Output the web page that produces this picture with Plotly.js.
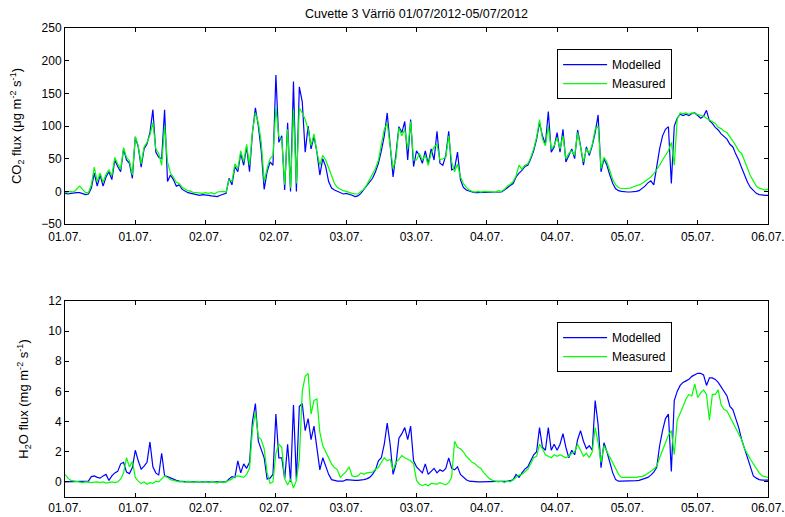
<!DOCTYPE html>
<html><head><meta charset="utf-8">
<script src="https://cdn.plot.ly/plotly-3.0.1.min.js"></script>
<style>html,body{margin:0;padding:0;background:#fff}</style>
</head><body><div id="chart" style="width:785px;height:517px"></div>
<script>
// Half-hourly samples, 01.07.2012 00:00 -> 06.07.2012 00:00
const startUTC = Date.UTC(2012, 6, 1, 0, 0);
const stepMinutes = 30;

const co2Modelled = [
-3,-4,-3,-2,-2,-2,-3,-5,-4,5, 28,8,25,8,22,30,18,48,38,30, 65,48,43,20,83,68,37,65,73,90, 125,60,52,50,125,15,25,18,8,10, 3,0,-2,-3,-4,-5,-6,-5,
-5,-6,-7,-7,-8,-6,-5,-3,20,10, 38,30,58,40,68,30,90,128,100,62, 3,30,45,40,178,75,85,2,105,0, 168,0,160,137,60,100,65,84,60,25, 50,38,15,5,2,0,-2,-4,
-3,-4,-6,-8,-7,-3,3,8,14,20, 30,43,62,85,120,72,22,58,99,90, 107,48,110,38,62,55,43,62,42,65, 48,92,43,40,55,92,33,35,60,18, 6,2,0,-1,-2,-2,-2,-2,
-2,-2,-2,-2,-2,-1,2,6,9,12, 22,28,32,38,40,50,62,80,105,85, 72,122,60,68,90,60,95,45,55,65, 50,94,70,40,68,55,70,90,117,30, 50,40,25,12,4,1,0,-1,
-1,-1,-1,0,1,4,8,13,16,10, 40,65,85,95,99,12,100,112,118,116, 118,116,119,120,116,112,115,124,108,104, 98,94,88,84,80,72,68,57,48,36, 24,14,6,2,-3,-5,-6,-6,-6
];
const co2Measured = [
-2,-1,0,-1,3,8,3,-2,-2,10, 37,15,28,14,26,33,24,52,42,34, 67,52,47,25,84,70,42,68,75,86, 105,65,58,40,100,45,28,22,14,12, 6,3,1,0,-2,-2,-3,-3,
-2,-3,-2,-4,-1,0,0,-1,18,15, 42,35,62,45,72,40,92,120,105,75, 15,35,50,55,128,84,80,10,95,5, 125,12,128,120,110,95,70,88,60,40, 55,48,35,25,12,6,3,1,
0,-2,-3,-4,-4,0,3,10,18,25, 35,48,70,95,104,68,35,50,97,85, 95,65,107,48,48,58,48,55,40,58, 68,72,48,50,52,85,45,30,42,22, 12,6,2,0,-1,0,-1,0,
0,-1,0,-1,1,0,3,8,11,15, 24,40,34,40,42,52,65,83,110,80, 70,100,65,70,82,65,85,50,58,62, 55,90,68,45,65,58,72,95,100,35, 52,45,32,18,10,6,4,4,
4,5,7,8,10,12,15,18,22,27, 33,40,48,55,62,75,40,110,120,119, 120,118,120,119,118,116,115,112,110,107, 104,98,96,92,90,84,77,70,62,58, 46,35,24,16,8,5,4,2,3
];
const h2oModelled = [
0,0,0,0,0,0,0,0,0.05,0.35, 0.4,0.3,0.25,0.4,0.5,0.1,0.4,0.6,0.7,1.2, 1.3,0.65,0.55,0.95,2.1,1.4,0.85,1.05,1.3,2.65, 1.0,0.6,0.45,1.9,0.4,0.35,0.25,0.18,0.1,0.05, 0.02,0,0,0,0,0,0,0,
0,0,0,0,0,0,0,0,0.2,0.35, 0.3,1.4,0.6,1.2,0.9,1.3,4.0,5.2,2.7,2.2, 1.6,0.2,0.25,0.5,4.5,1.6,1.6,0.2,2.5,0.0, 5.1,0.1,5.0,5.2,3.4,4.2,2.8,3.7,2.2,0.8, 1.6,1.1,0.5,0.15,0.08,0.05,0.05,0.05,
0.15,0.12,0.1,0.1,0.1,0.1,0.15,0.2,0.3,0.5, 0.8,1.4,1.6,2.5,3.9,2.5,0.5,1.2,2.9,3.2, 3.6,2.8,3.7,1.4,1.0,0.8,0.6,1.2,0.5,0.7, 0.9,0.6,0.8,0.7,0.9,1.6,0.9,0.8,1.0,0.5, 0.3,0.15,0.05,0.02,0,0,0,0,
0,0,0,0,0,0,0.02,0.05,0.08,0.15, 0.5,0.3,0.6,0.85,1.0,1.4,1.8,2.0,3.6,2.3, 2.1,3.6,2.1,2.5,2.1,2.5,3.2,2.3,1.6,2.1, 1.8,2.8,3.4,2.7,2.2,2.4,2.1,5.4,3.8,0.95, 2.6,2.0,1.3,0.6,0.15,0.05,0.05,0.05,
0.05,0.05,0.05,0.08,0.1,0.15,0.2,0.3,0.45,0.65, 0.95,2.4,3.4,4.2,4.5,0.7,5.4,6.0,6.4,6.6, 6.7,6.8,7.0,7.1,7.2,7.2,7.1,6.4,6.9,6.9, 6.8,6.6,6.3,6.0,5.7,5.0,4.8,4.2,3.6,2.8, 2.2,1.5,0.9,0.4,0.25,0.15,0.12,0.12,0.12
];
const h2oMeasured = [
0.5,0.25,0.1,0.05,0.02,0,-0.05,0,-0.03,-0.05, -0.02,0,-0.05,0,-0.08,-0.04,0,-0.05,0.0,0.2, 0.6,1.6,1.0,1.35,0.3,0.05,-0.1,0.0,-0.15,-0.05, -0.1,0.05,0.0,0.2,0.4,0.3,0.15,0.1,0.05,0.0, 0.02,-0.03,0.05,0,-0.05,0.03,0,-0.02,
0.04,-0.05,0.02,0,-0.08,0.03,-0.04,0.02,0.1,0.2, 0.35,0.4,0.35,0.3,0.5,0.9,3.5,4.6,3.0,2.8, 2.2,0.6,-0.1,0.0,1.9,2.5,2.3,0.2,-0.2,0.2, -0.4,0.1,1.5,6.0,7.0,7.2,4.5,5.4,5.5,3.3, 2.4,2.0,1.5,1.2,0.95,0.8,0.3,0.5,
0.7,1.0,0.4,0.35,0.4,0.6,0.5,0.6,0.6,0.65, 0.85,0.95,1.3,1.6,1.4,1.5,0.8,1.3,1.5,1.75, 1.6,1.5,1.4,1.2,0.1,-0.15,-0.25,-0.15,-0.25,-0.1, -0.15,-0.15,-0.05,-0.15,-0.2,-0.05,0.3,2.7,2.3,2.2, 2.0,1.7,1.5,1.3,1.2,1.0,0.9,0.6,
0.4,0.2,0.1,0.05,0.0,0.05,-0.05,0.05,0.0,0.15, 0.3,0.45,0.5,0.7,0.85,1.2,1.6,1.7,2.5,2.2, 1.8,1.7,1.6,1.8,1.7,1.8,1.7,1.6,1.7,1.9, 2.0,2.5,2.1,1.7,1.9,1.6,2.0,3.6,2.6,1.3, 2.4,2.0,1.6,1.2,0.85,0.5,0.3,0.3,
0.3,0.25,0.3,0.3,0.35,0.35,0.45,0.55,0.7,0.85, 1.05,1.6,2.1,2.6,3.1,3.4,1.8,4.1,4.5,5.0, 5.5,5.8,5.7,6.5,5.6,5.9,6.1,5.8,4.1,5.8, 5.8,6.1,5.1,4.8,4.7,4.3,3.9,3.6,3.2,2.8, 2.2,1.8,1.5,1.2,0.9,0.6,0.4,0.35,0.3
];
const seriesNames = ['Modelled', 'Measured'];
const chartTitle = 'Cuvette 3 Värriö 01/07/2012-05/07/2012';

const times = co2Modelled.map((_, i) =>
  new Date(startUTC + i * stepMinutes * 60000).toISOString().slice(0, 16).replace('T', ' '));

const blue = '#0000ff', green = '#00ff00';
const fam = '"Liberation Sans", Arial, sans-serif';
const font = {family: fam, size: 12, color: '#000'};

function xAx(anchor, standoff) {
  return {anchor: anchor, domain: [0, 1], type: 'date',
    range: ['2012-07-01 00:00', '2012-07-06 00:00'],
    tick0: '2012-07-01 00:00', dtick: 43200000, tickformat: '%d.%m.',
    ticks: 'inside', ticklen: 4, tickcolor: '#000', mirror: 'ticks',
    showline: true, linecolor: '#000', linewidth: 1, showgrid: false, zeroline: false,
    ticklabelstandoff: standoff, tickfont: font};
}
function yAx(domain, range, dtick, title, anchor) {
  return {domain: domain, range: range, dtick: dtick, tick0: 0, anchor: anchor,
    ticks: 'inside', ticklen: 4, tickcolor: '#000', mirror: 'ticks',
    showline: true, linecolor: '#000', linewidth: 1, showgrid: false, zeroline: false,
    tickfont: font, title: {text: title, font: {family: fam, size: 13, color: '#000'}, standoff: 16}};
}

const traces = [
  {x: times, y: co2Modelled, name: seriesNames[0], type: 'scatter', mode: 'lines', line: {color: blue, width: 1.2}, xaxis: 'x2', yaxis: 'y2', legend: 'legend'},
  {x: times, y: co2Measured, name: seriesNames[1], type: 'scatter', mode: 'lines', line: {color: green, width: 1.2}, xaxis: 'x2', yaxis: 'y2', legend: 'legend'},
  {x: times, y: h2oModelled, name: seriesNames[0], type: 'scatter', mode: 'lines', line: {color: blue, width: 1.2}, xaxis: 'x', yaxis: 'y', legend: 'legend2'},
  {x: times, y: h2oMeasured, name: seriesNames[1], type: 'scatter', mode: 'lines', line: {color: green, width: 1.2}, xaxis: 'x', yaxis: 'y', legend: 'legend2'}
];

const legendStyle = {xanchor: 'left', yanchor: 'top', bgcolor: '#fff', bordercolor: '#000', borderwidth: 1,
  font: font, tracegroupgap: 0, itemwidth: 44};

const layout = {
  width: 785, height: 517,
  margin: {l: 65, r: 17, t: 28, b: 20},
  paper_bgcolor: '#fff', plot_bgcolor: '#fff',
  font: font,
  title: {text: chartTitle, font: {family: fam, size: 12.5, color: '#000'},
    x: 0.5, xref: 'paper', y: 1 - 14 / 517, yref: 'container', yanchor: 'middle'},
  showlegend: true,
  xaxis: xAx('y', 0),
  xaxis2: xAx('y2', 2),
  yaxis: yAx([0, 0.418], [-1, 12], 2, 'H<sub>2</sub>O flux (mg m<sup>-2</sup> s<sup>-1</sup>)', 'x'),
  yaxis2: yAx([0.582, 1], [-50, 250], 50, 'CO<sub>2</sub> flux (μg m<sup>-2</sup> s<sup>-1</sup>)', 'x2'),
  legend: Object.assign({x: 0.70, y: 0.955}, legendStyle),
  legend2: Object.assign({x: 0.70, y: 0.373}, legendStyle)
};

Plotly.newPlot('chart', traces, layout, {displayModeBar: false, staticPlot: true});
</script></body></html>
